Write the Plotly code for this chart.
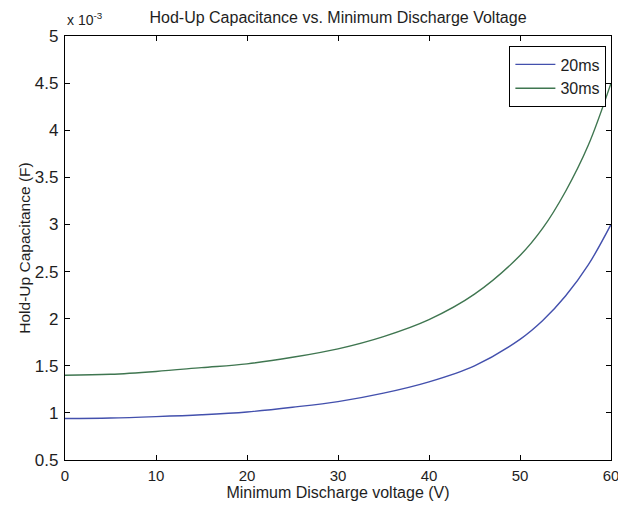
import plotly.graph_objects as go

# Minimum discharge voltage (V)
voltage = [0, 5, 10, 15, 20, 25, 30, 35, 40, 45, 50, 52.5, 55, 57.5, 60]
# Hold-up capacitance in units of 1e-3 F
cap_20ms = [0.94, 0.945, 0.96, 0.98, 1.01, 1.06, 1.12, 1.21, 1.33, 1.50, 1.78, 1.98, 2.24, 2.57, 3.0]
cap_30ms = [1.40, 1.41, 1.44, 1.48, 1.52, 1.59, 1.68, 1.81, 1.99, 2.26, 2.67, 2.96, 3.35, 3.84, 4.5]

x_ticks = [0, 10, 20, 30, 40, 50, 60]
y_ticks = [0.5, 1, 1.5, 2, 2.5, 3, 3.5, 4, 4.5, 5]
y_ticktext = ["0.5", "1", "1.5", "2", "2.5", "3", "3.5", "4", "4.5", "5"]

FONT = "Liberation Sans, Arial, Helvetica, sans-serif"
TXT = "#1e1e1e"

fig = go.Figure()
fig.add_trace(go.Scatter(x=voltage, y=cap_20ms, mode="lines", name="20ms",
                         line=dict(color="#4350ad", width=1.4, shape="spline", smoothing=1.0)))
fig.add_trace(go.Scatter(x=voltage, y=cap_30ms, mode="lines", name="30ms",
                         line=dict(color="#3f7650", width=1.4, shape="spline", smoothing=1.0)))

axis_common = dict(showline=True, linecolor="black", linewidth=1.3, mirror="ticks",
                   ticks="inside", ticklen=5, tickcolor="black", tickwidth=1.3,
                   showgrid=False, zeroline=False, ticklabeloverflow="allow",
                   automargin=False)

fig.update_layout(
    width=618, height=508,
    margin=dict(l=65, r=7, t=36, b=48),
    paper_bgcolor="white", plot_bgcolor="white",
    title=dict(text="Hod-Up Capacitance vs. Minimum Discharge Voltage",
               x=(65 + 611) / 2 / 618, xanchor="center", y=1 - 17 / 508, yanchor="middle",
               font=dict(family=FONT, size=16, color=TXT)),
    xaxis=dict(range=[0, 60], tickvals=x_ticks, ticklabelstandoff=2,
               tickfont=dict(family=FONT, size=15, color=TXT),
               title=dict(text="Minimum Discharge voltage (V)", standoff=3,
                          font=dict(family=FONT, size=16, color=TXT)),
               **axis_common),
    yaxis=dict(range=[0.5, 5], tickvals=y_ticks, ticktext=y_ticktext,
               ticklabelstandoff=2,
               tickfont=dict(family=FONT, size=17, color=TXT),
               title=dict(text="Hold-Up Capacitance (F)", standoff=0,
                          font=dict(family=FONT, size=15.5, color=TXT)),
               **axis_common),
    legend=dict(x=0.991, xanchor="right", y=0.976, yanchor="top",
                bgcolor="white", bordercolor="black", borderwidth=1.3,
                font=dict(family=FONT, size=16, color=TXT),
                tracegroupgap=0, itemwidth=40),
    showlegend=True,
)

fig.add_annotation(text="x 10<sup>-3</sup>", xref="paper", yref="paper",
                   x=0, y=1, xanchor="left", yanchor="bottom", yshift=6,
                   showarrow=False, font=dict(family=FONT, size=14, color=TXT))

fig.write_html("out.html")
